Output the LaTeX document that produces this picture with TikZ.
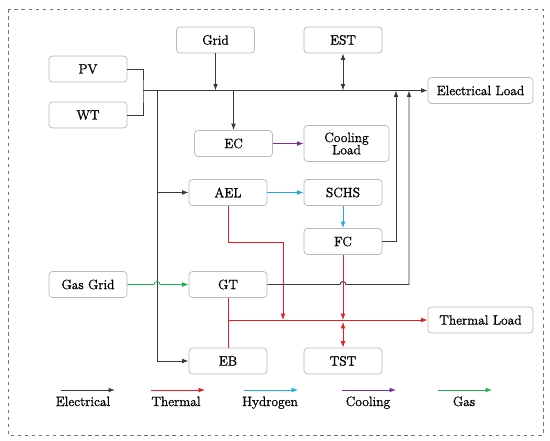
\documentclass[tikz,border=0pt]{standalone}
\usepackage{fontspec}
\setmainfont{Latin Modern Roman}[FakeBold=1.2]
\usepackage{tikz}
\usetikzlibrary{arrows.meta}

\definecolor{elecC}{HTML}{3A3A3A}
\definecolor{heatC}{HTML}{EC1C24}
\definecolor{hydroC}{HTML}{1AAEE6}
\definecolor{coolC}{HTML}{7B2E9E}
\definecolor{gasC}{HTML}{1DB04E}

\begin{document}
\begin{tikzpicture}[x=0.03cm, y=-0.03cm,
    box/.style={draw=black!28, line width=0.6pt, rounded corners=3pt, fill=white,
                minimum width=2.34cm, minimum height=0.78cm, inner sep=1pt,
                align=center, font=\fontsize{11.5}{12.5}\selectfont},
    legend/.style={anchor=base, font=\fontsize{11.5}{12.5}\selectfont},
    tip/.style={-{Latex[length=5.5pt,width=4pt]}},
    dtip/.style={{Latex[length=5.5pt,width=4pt]}-{Latex[length=5.5pt,width=4pt]}},
    eline/.style={draw=elecC, line width=0.8pt},
    tline/.style={draw=heatC, line width=0.7pt},
    hline/.style={draw=hydroC, line width=0.7pt},
    cline/.style={draw=coolC, line width=0.7pt},
    gline/.style={draw=gasC, line width=0.7pt},
]
\useasboundingbox (0,0) rectangle (550,441);
\draw[dashed, draw=black!55, line width=0.7pt] (8,9) rectangle (543,435);

% Sources and storage
\node[box] (grid) at (215.5,40) {Grid};
\node[box] (est) at (343,40) {EST};
\node[box] (pv) at (88,69) {PV};
\node[box] (wt) at (88,115) {WT};
\node[box] (gasgrid) at (88,284.5) {Gas Grid};

% Conversion units
\node[box] (ec) at (233.5,143.5) {EC};
\node[box] (ael) at (228,192.5) {AEL};
\node[box] (schs) at (343,192.5) {SCHS};
\node[box] (fc) at (343,241.5) {FC};
\node[box] (gt) at (228,284.5) {GT};
\node[box] (eb) at (228,361) {EB};
\node[box] (tst) at (343,361) {TST};

% Loads
\node[box, minimum width=3.15cm] (eload) at (480.5,90.5) {Electrical Load};
\node[box, minimum width=3.15cm] (tload) at (480.5,320) {Thermal Load};
\node[box, minimum width=2.55cm, minimum height=1.08cm] (cload) at (346.5,143.5) {Cooling\\[-2pt]Load};

% Electrical bus
\coordinate (busL) at (143,90.5);
\coordinate (busV) at (157,90.5);
\coordinate (fcUp) at (396,90.5);
\coordinate (gtUp) at (409,90.5);
\draw[eline] (pv.east) -| (busL) |- (wt.east);
\draw[eline, tip] (busL) -- (eload.west);
\draw[eline, tip] (grid.south) -- (grid.south |- busL);
\draw[eline, tip] (busL -| ec.north) -- (ec.north);
\draw[eline, dtip] (est.south) -- (est.south |- busL);
\draw[eline, tip] (busV) |- (eb.west);
\draw[eline, tip] (busV |- ael.west) -- (ael.west);
\draw[eline, tip] (fc.east) -| (fcUp);
\draw[eline, tip] (gt.east) -- (340,284.5) .. controls (340,280.5) and (346,280.5) .. (346,284.5) -| (gtUp);

% Thermal
\coordinate (aelBend) at (283,242);
\coordinate (tbusT) at (343,322);
\draw[tline, tip] (ael.south) |- (aelBend) -- (aelBend |- tload.west);
\draw[tline] (gt.south) -- (eb.north);
\draw[tline, tip] (gt.south |- tload.west) -- (tload.west);
\draw[tline, tip] (fc.south) -- (fc.south |- tload.west);
\draw[tline, dtip] (tbusT) -- (tst.north);

% Hydrogen, cooling, gas
\draw[hline, tip] (ael.east) -- (schs.west);
\draw[hline, tip] (schs.south) -- (fc.north);
\draw[cline, tip] (ec.east) -- (cload.west);
\draw[gline, tip] (gasgrid.east) -- (154,284.5) .. controls (154,280.5) and (160,280.5) .. (160,284.5) -- (gt.west);

% Legend
\foreach \x/\lx/\s/\t in {88/83/eline/Electrical, 178/176/tline/Thermal, 271/270/hline/Hydrogen,
                          369/368/cline/Cooling, 465/464/gline/Gas}{
  \node[legend] (leg-\t) at (\lx,406) {\t};
  \draw[\s, tip] (\x-27,390) -- (\x+27,390);
}
\end{tikzpicture}
\end{document}
